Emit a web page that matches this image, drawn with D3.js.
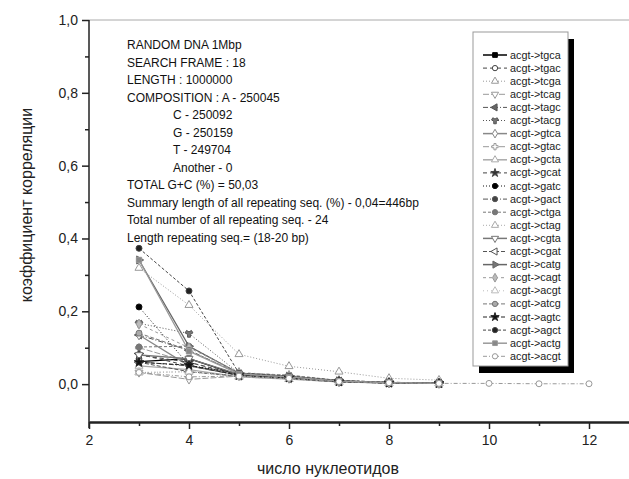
<!DOCTYPE html>
<html><head><meta charset="utf-8">
<script src="https://cdn.jsdelivr.net/npm/d3@7"></script>
<style>body{margin:0;background:#fff;} svg{display:block;font-family:"Liberation Sans",Arial,sans-serif;}</style>
</head><body>
<svg id="c" width="629" height="479"></svg>
<script>
const xTicks = [2,4,6,8,10,12];
const yTicks = [0,0.2,0.4,0.6,0.8,1.0];
const xs = [3,4,5,6,7,8,9,10,11,12];
const seriesNames = ["acgt->tgca","acgt->tgac","acgt->tcga","acgt->tcag","acgt->tagc","acgt->tacg","acgt->gtca","acgt->gtac","acgt->gcta","acgt->gcat","acgt->gatc","acgt->gact","acgt->ctga","acgt->ctag","acgt->cgta","acgt->cgat","acgt->catg","acgt->cagt","acgt->acgt","acgt->atcg","acgt->agtc","acgt->agct","acgt->actg","acgt->acgt"];
const seriesValues = [
  [0.062,0.070,0.025,0.018,0.008,0.004,0.003],
  [0.082,0.050,0.030,0.020,0.008,0.004,0.002],
  [0.319,0.217,0.082,0.049,0.034,0.016,0.011],
  [0.032,0.013,0.022,0.015,0.006,0.003,0.002],
  [0.135,0.093,0.028,0.020,0.008,0.004,0.002],
  [0.167,0.139,0.030,0.022,0.010,0.005,0.003],
  [0.135,0.050,0.025,0.018,0.007,0.004,0.002],
  [0.100,0.060,0.022,0.016,0.006,0.003,0.002],
  [0.050,0.040,0.020,0.014,0.006,0.003,0.002],
  [0.080,0.060,0.026,0.018,0.007,0.004,0.002],
  [0.212,0.052,0.028,0.020,0.008,0.004,0.002],
  [0.061,0.050,0.024,0.017,0.007,0.003,0.002],
  [0.102,0.104,0.030,0.025,0.010,0.005,0.003],
  [0.032,0.034,0.020,0.014,0.006,0.003,0.002],
  [0.080,0.070,0.027,0.019,0.008,0.004,0.002],
  [0.060,0.034,0.022,0.015,0.006,0.003,0.002],
  [0.341,0.104,0.030,0.022,0.009,0.004,0.002],
  [0.165,0.100,0.032,0.024,0.010,0.005,0.003],
  [0.032,0.034,0.021,0.014,0.006,0.003,0.002],
  [0.140,0.093,0.029,0.021,0.009,0.004,0.002],
  [0.060,0.052,0.024,0.017,0.007,0.003,0.002],
  [0.373,0.256,0.030,0.022,0.010,0.005,0.003],
  [0.341,0.090,0.028,0.020,0.008,0.004,0.002],
  [0.032,0.020,0.022,0.016,0.007,0.004,0.002,0.002,0.001,0.001]
];
const infoLines = ["RANDOM DNA 1Mbp","SEARCH FRAME : 18","LENGTH : 1000000","COMPOSITION : A - 250045","C - 250092","G - 250159","T - 249704","Another - 0","TOTAL G+C (%) = 50,03","Summary length of all repeating seq. (%) - 0,04=446bp","Total number of all repeating seq. - 24","Length repeating seq.= (18-20 bp)"];
const infoIndent = [0,0,0,0,1,1,1,1,0,0,0,0];

// styles per series: [symbol, rotation, fill, stroke color, dash]
const styles = [
  ["square",0,"#000","#000",null],
  ["circle",0,"#fff","#444","4,3"],
  ["triangle",0,"#fff","#999","1,2"],
  ["triangle",180,"#fff","#999","6,2"],
  ["triangle",-90,"#666","#555","5,2,1,2"],
  ["wye",0,"#777","#555","1,2"],
  ["diamond",0,"#fff","#888",null],
  ["cross",0,"#fff","#999","6,2"],
  ["triangle",0,"#fff","#aaa",null],
  ["star",0,"#333","#444","4,3"],
  ["circle",0,"#000","#111","1,2"],
  ["circle",0,"#444","#555","5,2,1,2"],
  ["circle",0,"#777","#777","3,2"],
  ["triangle",0,"#fff","#aaa","1,2"],
  ["triangle",180,"#fff","#777",null],
  ["triangle",-90,"#fff","#555","4,2"],
  ["triangle",90,"#777","#666",null],
  ["diamond",0,"#bbb","#999","3,3"],
  ["triangle",0,"#fff","#bbb","1,3"],
  ["circle",0,"#aaa","#777","4,2"],
  ["star",0,"#111","#222","4,2"],
  ["circle",0,"#222","#444","3,2"],
  ["square",0,"#888","#999",null],
  ["circle",0,"#fff","#999","4,2,1,2"]
];
const symMap = {circle:d3.symbolCircle,square:d3.symbolSquare,triangle:d3.symbolTriangle,diamond:d3.symbolDiamond,star:d3.symbolStar,cross:d3.symbolCross,wye:d3.symbolWye};

const svg = d3.select("#c");
const x = d3.scaleLinear().domain([2,12.8]).range([89,629]);
const y = d3.scaleLinear().domain([-0.104,1.0]).range([422,20]);
const fmt = v => d3.format(".1f")(v).replace(".",",");

// frame top
svg.append("line").attr("x1",89).attr("x2",629).attr("y1",20).attr("y2",20).attr("stroke","#aaa").attr("stroke-width",1);

// axes
const gx = svg.append("g").attr("transform","translate(0,422)");
gx.call(d3.axisBottom(x).tickValues(xTicks).tickFormat(d=>d).tickSize(7).tickSizeOuter(0))
gx.append("g").call(d3.axisBottom(x).tickValues([3,5,7,9,11]).tickFormat("").tickSize(4).tickSizeOuter(0));
gx.selectAll("path.domain").attr("stroke","#222").attr("stroke-width",2);
gx.selectAll("line").attr("stroke","#222").attr("stroke-width",1.5);
gx.selectAll("text").attr("font-size",14).attr("fill","#222").attr("dy","0.9em");

const gy = svg.append("g").attr("transform","translate(89,0)");
gy.call(d3.axisLeft(y).tickValues(yTicks).tickFormat(fmt).tickSize(7).tickSizeOuter(0));
gy.append("g").call(d3.axisLeft(y).tickValues([0.1,0.3,0.5,0.7,0.9]).tickFormat("").tickSize(4).tickSizeOuter(0));
gy.selectAll("path.domain").remove();
gy.append("line").attr("x1",0).attr("x2",0).attr("y1",20).attr("y2",428).attr("stroke","#222").attr("stroke-width",2);
gy.selectAll("line").attr("stroke","#222").attr("stroke-width",1.5);
gy.selectAll("text").attr("font-size",14).attr("fill","#222").attr("x",-11);

// titles
svg.append("text").attr("x",328).attr("y",474).attr("text-anchor","middle").attr("font-size",16).attr("fill","#222").text("число нуклеотидов");
svg.append("text").attr("transform","translate(32,205) rotate(-90)").attr("text-anchor","middle").attr("font-size",16).attr("fill","#222").text("коэффициент корреляции");

// info text
const info = svg.append("g").attr("font-size",12).attr("fill","#111");
infoLines.forEach((t,i)=>{
  info.append("text").attr("x",infoIndent[i]?173:127).attr("y",49+i*17.5).text(t);
});

// series
const line = d3.line().x((d,i)=>x(xs[i])).y(d=>y(d));
const gs = svg.append("g");
seriesValues.forEach((vals,k)=>{
  const s = styles[k];
  gs.append("path").attr("d",line(vals)).attr("fill","none").attr("stroke",s[3]).attr("stroke-width",s[4]?1:1.3).attr("stroke-dasharray",s[4]);
});
seriesValues.forEach((vals,k)=>{
  const s = styles[k];
  const sym = d3.symbol().type(symMap[s[0]]).size(28);
  vals.forEach((v,i)=>{
    gs.append("path").attr("d",sym()).attr("transform",`translate(${x(xs[i])},${y(v)}) rotate(${s[1]})`)
      .attr("fill",s[2]).attr("stroke",s[3]).attr("stroke-width",1);
  });
});

// legend
const lg = svg.append("g");
lg.append("rect").attr("x",479).attr("y",39).attr("width",95).attr("height",334).attr("fill","#000");
lg.append("rect").attr("x",473).attr("y",32).attr("width",95).attr("height",334).attr("fill","#fff").attr("stroke","#999").attr("stroke-width",1);
seriesNames.forEach((n,k)=>{
  const s = styles[k];
  const yy = 55 + k*13.1;
  lg.append("line").attr("x1",483).attr("x2",507).attr("y1",yy).attr("y2",yy).attr("stroke",s[3]).attr("stroke-width",s[4]?1:1.5).attr("stroke-dasharray",s[4]);
  lg.append("path").attr("d",d3.symbol().type(symMap[s[0]]).size(22)()).attr("transform",`translate(495,${yy}) rotate(${s[1]})`).attr("fill",s[2]).attr("stroke",s[3]);
  lg.append("text").attr("x",510).attr("y",yy+3.5).attr("font-size",10.8).attr("fill","#222").text(n);
});
</script>
</body></html>
